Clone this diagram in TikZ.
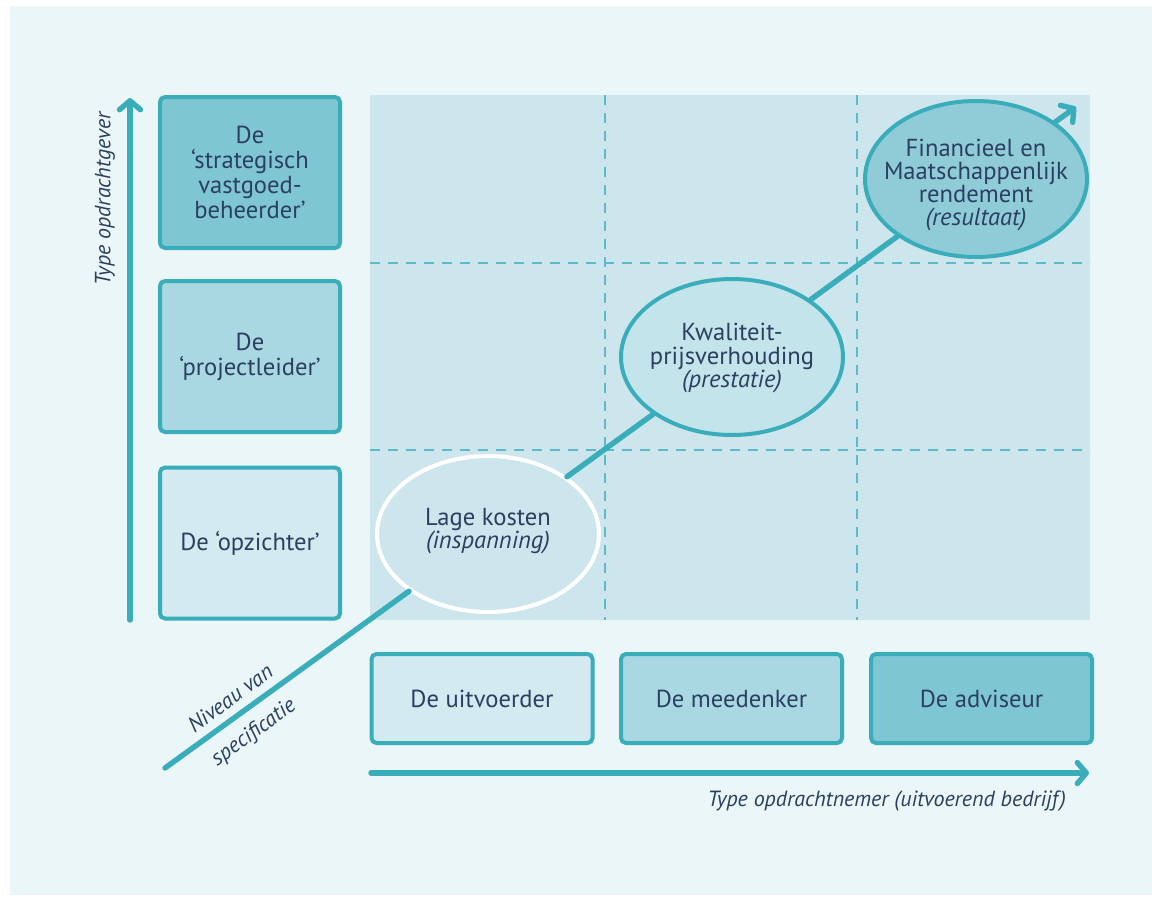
\documentclass[tikz,border=0pt]{standalone}
\usepackage{fontspec}
\setmainfont{PT Sans}
\usetikzlibrary{arrows.meta}
\usetikzlibrary{shapes.geometric}

\definecolor{pagebg}{HTML}{EAF6F8}
\definecolor{fieldbg}{HTML}{CDE6ED}
\definecolor{boxlight}{HTML}{D2EAF0}
\definecolor{boxmid}{HTML}{A9D8E2}
\definecolor{boxdark}{HTML}{7FC6D3}
\definecolor{rim}{HTML}{3AADBA}
\definecolor{ink}{HTML}{2B3F60}
\definecolor{dashcol}{HTML}{5DBAC6}
\definecolor{goalmid}{HTML}{C4E4EB}
\definecolor{goaldark}{HTML}{8FCCD8}

\begin{document}
\begin{tikzpicture}[x=0.5pt,y=-0.5pt,
  role/.style={draw=rim,line width=2pt,rounded corners=2.5pt,text=ink,align=center,font=\fontsize{12.3}{12.5}\selectfont},
  sidebox/.style={role,minimum width=90pt,minimum height=75.5pt},
  bottombox/.style={role,minimum width=110.5pt,minimum height=44.5pt},
  goal/.style={ellipse,line width=2pt,inner sep=0pt,minimum width=111pt,minimum height=78pt},
  goaltext/.style={text=ink,align=center,font=\fontsize{12.3}{11.6}\selectfont},
  gridline/.style={dashcol,line width=0.8pt,dash pattern=on 5pt off 4pt},
  axis/.style={rim,line width=2.7pt,line cap=round},
  axistip/.style={axis,-{Straight Barb[length=4.5pt,width=10.5pt,line cap=round,line join=round]}},
  axislabel/.style={text=ink,font=\fontsize{11}{12}\selectfont\itshape}
]

% page and field
\useasboundingbox (0,0) rectangle (1162,901);
\fill[white] (0,0) rectangle (1162,901);
\fill[pagebg] (10,6) rectangle (1152,895);
\fill[fieldbg] (370,95) rectangle (1090,620);

\draw[gridline] (605,95) -- (605,620);
\draw[gridline] (857,95) -- (857,620);
\draw[gridline] (370,263) -- (1090,263);
\draw[gridline] (370,450) -- (1090,450);

% axes
\coordinate (yfoot) at (130,620);
\coordinate (ytip) at (130,98);
\coordinate (xfoot) at (371,773);
\coordinate (xtip) at (1089,773);
\coordinate (dfoot) at (165,768);
\coordinate (dtip) at (1076,107);

\draw[axistip] (yfoot) -- (ytip);
\draw[axistip] (xfoot) -- (xtip);

\node[axislabel,rotate=90] (ylab) at (105,199) {Type opdrachtgever};
\node[axislabel,anchor=east] (xlab) at (1073,801) {Type opdrachtnemer (uitvoerend bedrijf)};
\node[axislabel,rotate=36] (dlabup) at (230,698) {Niveau van};
\node[axislabel,rotate=36] (dlabdown) at (254,733) {specificatie};

% roles
\node[sidebox,fill=boxdark] (beheerder) at (250,172.5) {De\\‘strategisch\\vastgoed-\\beheerder’};
\node[sidebox,fill=boxmid] (projectleider) at (250,356.5) {De\\‘projectleider’};
\node[sidebox,fill=boxlight] (opzichter) at (250,543) {De ‘opzichter’};

\node[bottombox,fill=boxlight] (uitvoerder) at (482,698.5) {De uitvoerder};
\node[bottombox,fill=boxmid] (meedenker) at (731.5,698.5) {De meedenker};
\node[bottombox,fill=boxdark] (adviseur) at (981.5,698.5) {De adviseur};

% goals
\node[goal,draw=white,fill=fieldbg] (kosten) at (488,534) {};
\node[goal,draw=rim,fill=goalmid] (prestatie) at (732,357) {};
\node[goal,draw=rim,fill=goaldark] (rendement) at (976,179) {};

\node[goaltext] (kostentxt) at (488,531) {Lage kosten\\\textit{(inspanning)}};
\node[goaltext] (prestatietxt) at (732,358) {Kwaliteit-\\prijsverhouding\\\textit{(prestatie)}};
\node[goaltext] (rendementtxt) at (976,185) {Financieel en\\Maatschappenlijk\\rendement\\\textit{(resultaat)}};

\draw[axis] (dfoot) -- (kosten);
\draw[axis] (kosten) -- (prestatie);
\draw[axis] (prestatie) -- (rendement);
\draw[axistip] (rendement) -- (dtip);

\end{tikzpicture}
\end{document}
